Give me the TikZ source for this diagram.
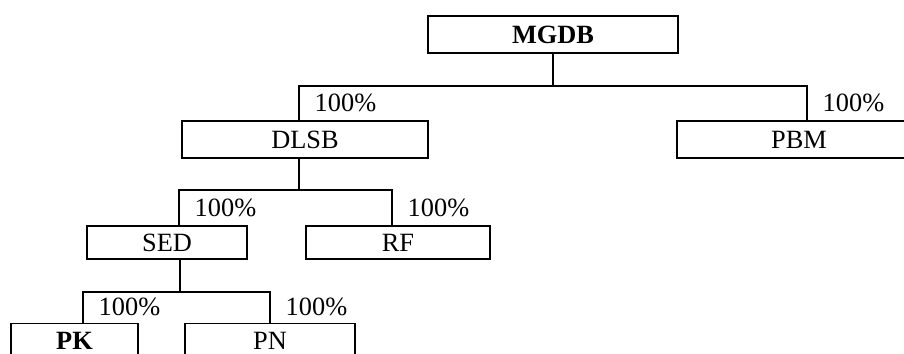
\documentclass[tikz,border=0pt]{standalone}
\usepackage{fontspec}
\setmainfont{Liberation Serif}
\usepackage{tikz}
\usetikzlibrary{positioning}

\begin{document}
\begin{tikzpicture}[
  x=0.02cm, y=-0.02cm,
  box/.style={draw, line width=1pt, inner sep=0pt,
              minimum height=0.66cm,
              align=center, font=\fontsize{15}{17}\selectfont},
  conn/.style={line width=1pt},
  pct/.style={right=0.18cm, font=\fontsize{15}{17}\selectfont}
]
  \clip (0,0) rectangle (904,354);
  \node[box, minimum width=5.0cm, minimum height=0.74cm,
        font=\fontsize{15}{17}\selectfont\bfseries] (MGDB) at (553,34.5) {MGDB};
  \node[box, minimum width=4.92cm, minimum height=0.74cm] (DLSB) at (305,139.5) {DLSB};
  \node[box, minimum width=4.88cm, minimum height=0.74cm] (PBM)  at (799,139.5) {PBM};
  \node[box, minimum width=3.2cm]  (SED) at (167,242.5) {SED};
  \node[box, minimum width=3.68cm] (RF)  at (398,242.5) {RF};
  \node[box, minimum width=2.54cm, minimum height=0.7cm,
        font=\fontsize{15}{17}\selectfont\bfseries] (PK) at (74.5,341) {PK};
  \node[box, minimum width=3.4cm, minimum height=0.7cm] (PN) at (270,341) {PN};

  \draw[conn] (MGDB.south) -- ++(0,32) coordinate (m1);
  \draw[conn] (m1) -| ([xshift=-0.12cm]DLSB.north)
    node[pos=0.75, pct] {100\%};
  \draw[conn] (m1) -| ([xshift=0.16cm]PBM.north)
    node[pos=0.75, pct] {100\%};

  \draw[conn] ([xshift=-0.12cm]DLSB.south) -- ++(0,31) coordinate (m2);
  \draw[conn] (m2) -| ([xshift=0.24cm]SED.north)
    node[pos=0.75, pct] {100\%};
  \draw[conn] (m2) -| ([xshift=-0.12cm]RF.north)
    node[pos=0.75, pct] {100\%};

  \draw[conn] ([xshift=0.26cm]SED.south) -- ++(0,32) coordinate (m3);
  \draw[conn] (m3) -| ([xshift=0.17cm]PK.north)
    node[pos=0.75, pct] {100\%};
  \draw[conn] (m3) -| (PN.north)
    node[pos=0.75, pct] {100\%};
\end{tikzpicture}
\end{document}
